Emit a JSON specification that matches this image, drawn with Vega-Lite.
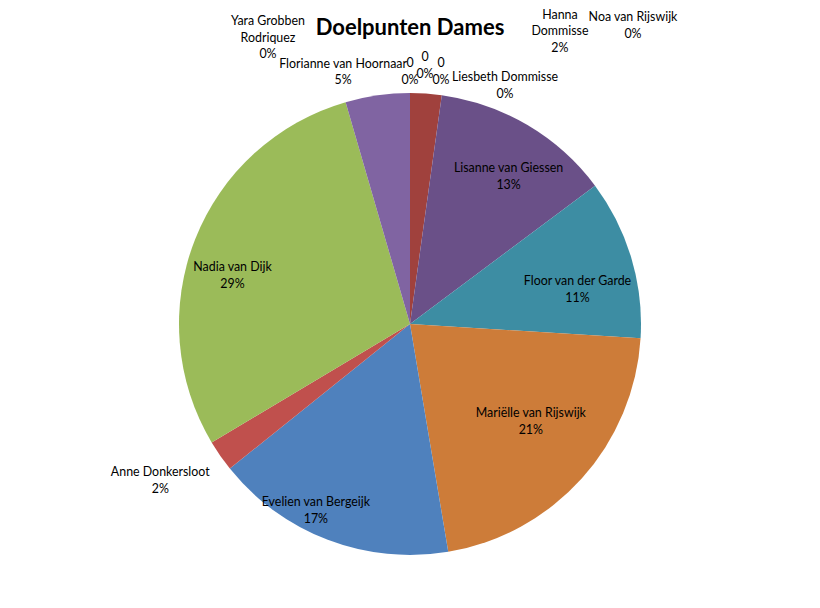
{
  "$schema": "https://vega.github.io/schema/vega-lite/v6.json",
  "autosize": {"type": "none"},
  "padding": {"top": 40, "left": 0, "right": 0, "bottom": 0},
  "width": 820,
  "height": 568,
  "background": "white",
  "title": {
    "text": "Doelpunten Dames",
    "font": "Lato",
    "fontSize": 22,
    "fontWeight": "bold",
    "color": "black",
    "anchor": "middle",
    "offset": 3,
    "dy": 35
  },
  "config": {
    "view": {"stroke": null},
    "text": {"font": "Lato", "fontSize": 12.4, "lineBreak": "\n", "lineHeight": 16.5, "baseline": "middle", "color": "black"}
  },
  "data": {
    "values": [
      {"idx": 0, "id": "hanna", "name": "Hanna Dommisse", "value": 2.2, "label": "Hanna\nDommisse\n2%"},
      {"idx": 1, "id": "lisanne", "name": "Lisanne van Giessen", "value": 12.6, "label": "Lisanne van Giessen\n13%"},
      {"idx": 2, "id": "floor", "name": "Floor van der Garde", "value": 11.2, "label": "Floor van der Garde\n11%"},
      {"idx": 3, "id": "marielle", "name": "Mariëlle van Rijswijk", "value": 21.4, "label": "Mariëlle van Rijswijk\n21%"},
      {"idx": 4, "id": "evelien", "name": "Evelien van Bergeijk", "value": 16.9, "label": "Evelien van Bergeijk\n17%"},
      {"idx": 5, "id": "anne", "name": "Anne Donkersloot", "value": 2.2, "label": "Anne Donkersloot\n2%"},
      {"idx": 6, "id": "nadia", "name": "Nadia van Dijk", "value": 29.1, "label": "Nadia van Dijk\n29%"},
      {"idx": 7, "id": "florianne", "name": "Florianne van Hoornaar", "value": 4.5, "label": "Florianne van Hoornaar\n5%"},
      {"idx": 8, "id": "yara", "name": "Yara Grobben Rodriquez", "value": 0, "label": "Yara Grobben\nRodriquez\n0%"},
      {"idx": 9, "id": "zero1", "name": "0", "value": 0, "label": "0\n0%"},
      {"idx": 10, "id": "zero2", "name": "0", "value": 0, "label": "0\n0%"},
      {"idx": 11, "id": "zero3", "name": "0", "value": 0, "label": "0\n0%"},
      {"idx": 12, "id": "liesbeth", "name": "Liesbeth Dommisse", "value": 0, "label": "Liesbeth Dommisse\n0%"},
      {"idx": 13, "id": "noa", "name": "Noa van Rijswijk", "value": 0, "label": "Noa van Rijswijk\n0%"}
    ]
  },
  "encoding": {
    "theta": {"field": "value", "type": "quantitative", "stack": true},
    "order": {"field": "idx", "type": "quantitative"}
  },
  "layer": [
    {
      "mark": {"type": "arc", "outerRadius": 231},
      "encoding": {
        "color": {
          "field": "id",
          "type": "nominal",
          "legend": null,
          "scale": {
            "domain": ["hanna", "lisanne", "floor", "marielle", "evelien", "anne", "nadia", "florianne", "yara", "zero1", "zero2", "zero3", "liesbeth", "noa"],
            "range": ["#a0413d", "#6a5088", "#3d8da3", "#cd7c39", "#4f81bd", "#c0504d", "#9bbb59", "#8064a2", "#4f81bd", "#c0504d", "#9bbb59", "#8064a2", "#4bacc6", "#f79646"]
          }
        }
      }
    },
    {
      "mark": {"type": "text", "radius": 180, "dx": 7, "dy": -1},
      "encoding": {"text": {"condition": {"test": "datum.id === 'lisanne'", "field": "label"}, "value": ""}}
    },
    {
      "mark": {"type": "text", "radius": 180, "dx": -5, "dy": 9},
      "encoding": {"text": {"condition": {"test": "datum.id === 'floor'", "field": "label"}, "value": ""}}
    },
    {
      "mark": {"type": "text", "radius": 180, "dx": -13, "dy": -31},
      "encoding": {"text": {"condition": {"test": "datum.id === 'marielle'", "field": "label"}, "value": ""}}
    },
    {
      "mark": {"type": "text", "radius": 180, "dx": -30, "dy": 10},
      "encoding": {"text": {"condition": {"test": "datum.id === 'evelien'", "field": "label"}, "value": ""}}
    },
    {
      "mark": {"type": "text", "radius": 180, "dx": -10, "dy": 9},
      "encoding": {"text": {"condition": {"test": "datum.id === 'nadia'", "field": "label"}, "value": ""}}
    },
    {
      "mark": {"type": "text", "radius": 270, "dx": -28, "dy": -6},
      "encoding": {"text": {"condition": {"test": "datum.id === 'anne'", "field": "label"}, "value": ""}}
    },
    {
      "mark": {"type": "text", "radius": 255, "dx": -31, "dy": -8},
      "encoding": {"text": {"condition": {"test": "datum.id === 'florianne'", "field": "label"}, "value": ""}}
    },
    {
      "mark": {"type": "text", "radius": 231, "dx": 134, "dy": -79},
      "encoding": {"text": {"condition": {"test": "datum.id === 'hanna'", "field": "label"}, "value": ""}}
    },
    {
      "mark": {"type": "text", "radius": 231, "dx": -142, "dy": -72},
      "encoding": {"text": {"condition": {"test": "datum.id === 'yara'", "field": "label"}, "value": ""}}
    },
    {
      "mark": {"type": "text", "radius": 231, "dx": 0, "dy": -30},
      "encoding": {"text": {"condition": {"test": "datum.id === 'zero1'", "field": "label"}, "value": ""}}
    },
    {
      "mark": {"type": "text", "radius": 231, "dx": 15, "dy": -36},
      "encoding": {"text": {"condition": {"test": "datum.id === 'zero2'", "field": "label"}, "value": ""}}
    },
    {
      "mark": {"type": "text", "radius": 231, "dx": 31, "dy": -30},
      "encoding": {"text": {"condition": {"test": "datum.id === 'zero3'", "field": "label"}, "value": ""}}
    },
    {
      "mark": {"type": "text", "radius": 231, "dx": 95, "dy": -16},
      "encoding": {"text": {"condition": {"test": "datum.id === 'liesbeth'", "field": "label"}, "value": ""}}
    },
    {
      "mark": {"type": "text", "radius": 231, "dx": 223, "dy": -76},
      "encoding": {"text": {"condition": {"test": "datum.id === 'noa'", "field": "label"}, "value": ""}}
    }
  ]
}
